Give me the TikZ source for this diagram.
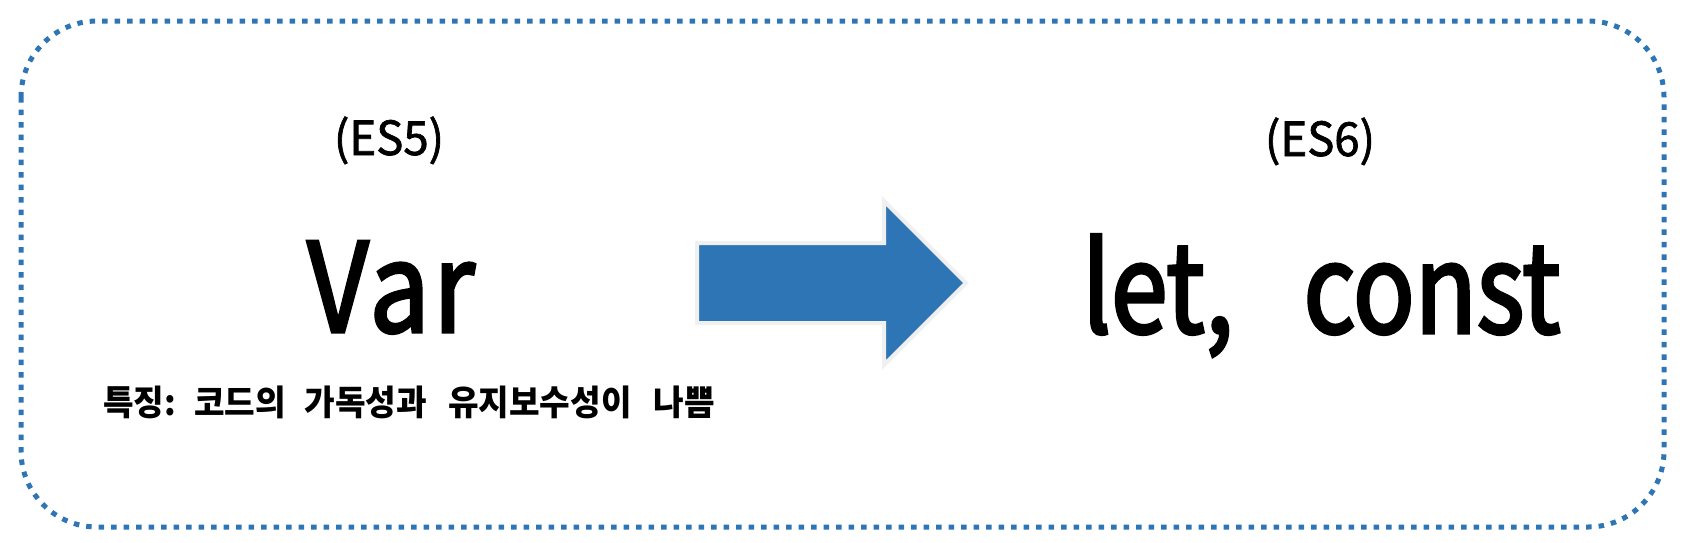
\documentclass[tikz,border=0pt]{standalone}
\usepackage{fontspec}
\setmainfont{Noto Sans CJK KR}
\newfontfamily\latsmall{Noto Sans CJK KR}[FakeStretch=0.97, FakeBold=1.5]
\newfontfamily\latvar{Noto Sans CJK KR}[FakeStretch=0.86, FakeBold=2.5, LetterSpace=3]
\newfontfamily\latlet{Noto Sans CJK KR}[FakeStretch=0.82, FakeBold=2.5]
\newfontfamily\krnote{Noto Sans CJK KR}[FakeStretch=0.95]
\definecolor{officeblue}{HTML}{2E75B6}
\definecolor{edgegray}{HTML}{F0F0F0}
\tikzset{
  frame/.style={draw=officeblue, line width=5pt, dash pattern=on 5.5pt off 7pt, rounded corners=76pt},
  bigarrow/.style={fill=officeblue, draw=edgegray, line width=4pt, line join=miter},
  small/.style={inner sep=0pt, anchor=base, font=\latsmall\fontsize{47}{47}\selectfont},
  big/.style={inner sep=0pt, anchor=base},
  note/.style={inner sep=0pt, anchor=base west, font=\krnote\bfseries\fontsize{35}{35}\selectfont}
}
\begin{document}
\begin{tikzpicture}[x=1pt,y=-1pt]
\useasboundingbox (0,0) rectangle (1683,542);
\draw[frame] (21,21) rectangle (1664,527);
\coordinate (a1) at (697,243);
\coordinate (a2) at (884,243);
\coordinate (a3) at (884,201);
\coordinate (tip) at (966,283);
\coordinate (a5) at (884,365);
\coordinate (a6) at (884,323);
\coordinate (a7) at (697,323);
\draw[bigarrow] (a1) -- (a2) -- (a3) -- (tip) -- (a5) -- (a6) -- (a7) -- cycle;
\node[small] (es5) at (389,155) {(ES5)};
\node[small] (es6) at (1320,156) {(ES6)};
\node[big, font=\latvar\fontsize{124}{124}\selectfont] (var) at (391,332) {Var};
\node[big, anchor=base west, font=\latlet\fontsize{124}{124}\selectfont] (letc) at (1082,333) {let,\hspace{70pt}const};
\node[note] (feat) at (103,415) {특징:\hspace{18pt}코드의\hspace{19pt}가독성과\hspace{21pt}유지보수성이\hspace{22pt}나쁨};
\end{tikzpicture}
\end{document}
